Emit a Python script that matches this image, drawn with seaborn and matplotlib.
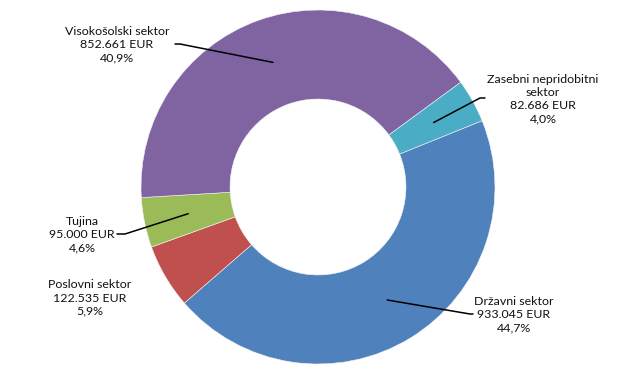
import numpy as np
import matplotlib
matplotlib.use("Agg")
import matplotlib.pyplot as plt
import seaborn as sns

# data (alphabetical order, drawn clockwise)
sectors = ["Državni sektor", "Poslovni sektor", "Tujina", "Visokošolski sektor",
           "Zasebni nepridobitni\nsektor"]
amounts = [933045, 122535, 95000, 852661, 82686]
amount_labels = ["933.045 EUR", "122.535 EUR", "95.000 EUR", "852.661 EUR", "82.686 EUR"]
pct_labels = ["44,7%", "5,9%", "4,6%", "40,9%", "4,0%"]
colors = ["#4F81BD", "#C0504D", "#9BBB59", "#8064A2", "#4BACC6"]

# label layout in pixel coords (x, y from top), elbow of leader line (None = no line)
label_pos = [(514, 315), (90, 298), (82, 235), (117, 45), (543, 99)]
elbows = [((470, 314), (473, 314)), None, ((125, 234), (117, 234)),
          ((180, 44), (175, 44)), ((480, 98), (485, 98))]

W, H = 641, 371
sns.set_theme(style="white")
plt.rcParams["font.family"] = ["Lato", "DejaVu Sans"]

fig = plt.figure(figsize=(W / 100, H / 100), dpi=100)
ax = fig.add_axes([0, 0, 1, 1])

cx, cy, R = 318, H - 187, 177
ring = R * 0.503
wedges, _ = ax.pie(amounts, colors=colors, startangle=22, counterclock=False,
                   center=(cx, cy), radius=R, frame=True,
                   wedgeprops=dict(width=ring, edgecolor="#f4f4f4", linewidth=0.4))
ax.set_xlim(0, W)
ax.set_ylim(0, H)
ax.set_aspect("equal")
ax.axis("off")

for w, name, amt, pct, pos, elb in zip(wedges, sectors, amount_labels, pct_labels,
                                       label_pos, elbows):
    ax.text(pos[0], H - pos[1], f"{name}\n{amt}\n{pct}", ha="center", va="center",
            fontsize=8.9, color="#111111", linespacing=1.25)
    if elb is None:
        continue
    mid = np.deg2rad((w.theta1 + w.theta2) / 2)
    r_mid = R - ring / 2
    ax_x, ax_y = cx + r_mid * np.cos(mid), cy + r_mid * np.sin(mid)
    xs = [ax_x, elb[0][0], elb[1][0]]
    ys = [ax_y, H - elb[0][1], H - elb[1][1]]
    ax.plot(xs, ys, color="black", linewidth=1.1)

fig.savefig("out.png", dpi=100)
